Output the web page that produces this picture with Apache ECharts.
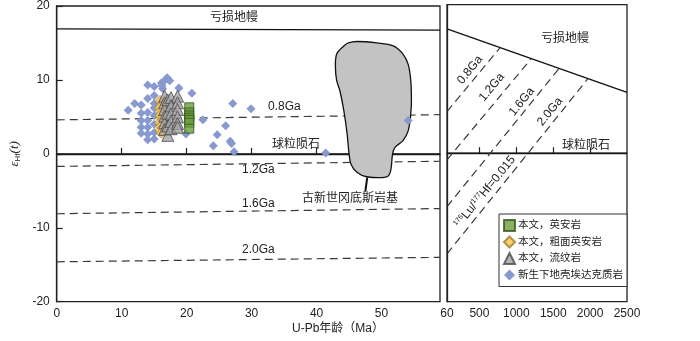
<!DOCTYPE html>
<html><head><meta charset="utf-8">
<script src="https://cdn.jsdelivr.net/npm/echarts@6/dist/echarts.min.js"></script>
<style>html,body{margin:0;padding:0;background:#fff}#c{width:700px;height:341px}</style>
</head><body><div id="c"></div>
<script>
// ---- data ----
const leftXTicks = [0, 10, 20, 30, 40, 50];
const rightXTicks = [60, 500, 1000, 1500, 2000, 2500];
const yTicks = [-20, -10, 0, 10, 20];

const daciteX = [20.4, 20.4, 20.4, 20.4, 20.4, 20.4, 20.4];
const daciteY = [6.3, 5.6, 5.2, 4.9, 4.6, 4.2, 3.4];

const trachyX = [15.9, 16.1, 15.8, 16.0, 15.9, 16.1, 15.8, 16.0, 15.9, 16.1];
const trachyY = [7.2, 6.7, 6.2, 5.7, 5.2, 4.7, 4.2, 3.7, 3.2, 2.8];

const rhyoliteX = [16.6, 16.6, 16.6, 16.6, 16.6, 16.6, 17.1, 17.1, 17.1, 17.1, 17.6, 17.6, 17.6, 17.6, 17.6, 18.6, 18.6, 18.6, 18.6, 18.6, 18.6];
const rhyoliteY = [7.8, 6.9, 6.0, 5.1, 4.2, 3.3, 7.3, 5.5, 3.8, 2.5, 7.6, 6.5, 5.4, 4.4, 3.4, 7.8, 6.9, 6.0, 5.0, 4.1, 3.6];

const adakiteX = [11.0, 12.0, 13.0, 13.0, 13.0, 13.0, 13.0, 14.0, 14.0, 14.0, 14.0, 14.0, 14.0, 14.0, 15.0, 15.0, 15.0, 15.0, 15.0, 15.0, 15.0, 15.0, 16.1, 16.3, 16.6, 17.0, 17.4, 16.2, 18.8, 20.8, 19.9, 22.5, 27.1, 29.9, 24.7, 24.1, 26.0, 26.7, 26.9, 27.3, 41.4, 54.1];
const adakiteY = [5.9, 6.8, 6.6, 5.5, 4.5, 3.6, 2.8, 9.3, 7.5, 5.6, 4.5, 3.6, 2.7, 1.9, 9.1, 7.9, 6.8, 6.2, 5.2, 4.0, 2.9, 2.0, 9.6, 8.8, 9.9, 10.3, 9.9, 9.2, 8.9, 8.2, 2.7, 4.6, 6.8, 6.1, 2.6, 1.1, 3.8, 1.7, 1.4, 0.3, 0.1, 4.5];

// Paleocene Gangdese batholith field outline
const batholithX = [44.9, 44.2, 43.1, 42.9, 43.1, 43.6, 44.2, 44.7, 45.0, 45.3, 46.2, 47.7, 50.8, 51.4, 51.7, 52.1, 53.3, 54.1, 54.5, 54.6, 54.5, 54.1, 53.3, 51.8, 49.3, 46.2];
const batholithY = [15.0, 14.6, 13.5, 11.7, 9.9, 8.5, 5.8, 2.7, 0.0, -1.4, -2.5, -3.1, -3.1, -2.3, 0.0, 0.9, 1.8, 3.1, 5.4, 7.2, 9.9, 12.1, 13.5, 14.6, 15.0, 15.2];
const leaderX = [47.8, 47.5];
const leaderY = [-3.2, -5.1];

// reference lines, left panel (age in Ma)
const dmLeftX = [0, 59], dmLeftY = [16.9, 16.75];
const churLeftX = [0, 59], churLeftY = [0, 0];
const ga08LeftY = [4.6, 5.3];
const ga12LeftY = [-1.7, -1.0];
const ga16LeftY = [-8.1, -7.4];
const ga20LeftY = [-14.6, -14.0];
const modelLeftX = [0, 59];

// right panel
const dmRightX = [60, 2500], dmRightY = [16.73, 8.2];
const churRightX = [60, 2500], churRightY = [0, 0];
const ga08RightX = [60, 778], ga08RightY = [5.6, 14.2];
const ga12RightX = [60, 1199], ga12RightY = [-0.9, 12.7];
const ga16RightX = [60, 1582], ga16RightY = [-7.2, 11.45];
const ga20RightX = [60, 1967], ga20RightY = [-13.55, 10.0];

const names = ['本文，英安岩', '本文，粗面英安岩', '本文，流纹岩', '新生下地壳埃达克质岩'];

// ---- chart ----
const zip = (a, b) => a.map((v, i) => [v, b[i]]);
const FONT = 'Liberation Sans, Noto Sans CJK SC, sans-serif';
const chart = echarts.init(document.getElementById('c'), null, {renderer: 'canvas'});

function refLine(name, xs, ys, idx, dashed, w) {
  return {
    name: name, type: 'line', xAxisIndex: idx, yAxisIndex: idx, data: zip(xs, ys),
    symbol: 'none', silent: true, z: 1, animation: false,
    lineStyle: {color: dashed ? '#3a3a3a' : '#111', width: w || 1.2, type: dashed ? [8, 5] : 'solid'}
  };
}

const txt = (x, y, s, opt) => ({
  type: 'text', x: x, y: y, silent: true,
  style: Object.assign({text: s, fill: '#222', font: '12px ' + FONT, align: 'center', verticalAlign: 'middle'}, opt || {})
});

const rot = Math.atan(1.22);
const rtxt = (x, y, s) => ({type: 'text', x: x, y: y, rotation: rot, silent: true,
  style: {text: s, fill: '#222', font: '12px ' + FONT, align: 'center', verticalAlign: 'middle'}});

const option = {
  animation: false,
  backgroundColor: '#fff',
  textStyle: {fontFamily: FONT},
  grid: [
    {left: 55, top: 4.7, width: 385, height: 297, show: true, borderColor: '#222', borderWidth: 1.3, containLabel: false},
    {left: 447, top: 4.7, width: 180, height: 297, show: true, borderColor: '#222', borderWidth: 1.3, containLabel: false}
  ],
  xAxis: [
    {type: 'value', gridIndex: 0, min: 0, max: 59, splitLine: {show: false},
     axisLine: {lineStyle: {color: '#222', width: 1.3}},
     axisTick: {inside: true, length: 6, customValues: leftXTicks.slice(1), lineStyle: {color: '#222', width: 1.2}},
     axisLabel: {customValues: leftXTicks, color: '#222', fontSize: 12, margin: 6, fontFamily: FONT,
                 formatter: v => String(v)}},
    {type: 'value', gridIndex: 1, min: 60, max: 2500, splitLine: {show: false},
     axisLine: {lineStyle: {color: '#222', width: 1.3}},
     axisTick: {inside: true, length: 6, customValues: [500, 1000, 1500, 2000], lineStyle: {color: '#222', width: 1.2}},
     axisLabel: {customValues: rightXTicks, color: '#222', fontSize: 12, margin: 6, fontFamily: FONT,
                 formatter: v => String(v)}}
  ],
  yAxis: [
    {type: 'value', gridIndex: 0, min: -20, max: 20, interval: 10, splitLine: {show: false},
     axisLine: {lineStyle: {color: '#222', width: 1.3}},
     axisTick: {inside: true, length: 6, lineStyle: {color: '#222', width: 1.2}},
     axisLabel: {color: '#222', fontSize: 12, margin: 7, fontFamily: FONT},
     name: '{e|ε}{s|Hf}{t|(t)}', nameLocation: 'middle', nameRotate: 90, nameGap: 19,
     nameTextStyle: {rich: {
       e: {fontFamily: 'Liberation Serif, DejaVu Serif, serif', fontStyle: 'italic', fontSize: 13, color: '#222'},
       s: {fontFamily: FONT, fontSize: 8, color: '#222', verticalAlign: 'bottom', padding: [6, 0, 0, 0]},
       t: {fontFamily: 'Liberation Serif, DejaVu Serif, serif', fontStyle: 'italic', fontSize: 13, color: '#222'}
     }}},
    {type: 'value', gridIndex: 1, min: -20, max: 20, interval: 10, splitLine: {show: false},
     axisLine: {lineStyle: {color: '#222', width: 1.3}}, axisTick: {show: false}, axisLabel: {show: false}}
  ],
  legend: {
    data: [
      {name: names[0], icon: 'rect'},
      {name: names[1], icon: 'diamond'},
      {name: names[2], icon: 'triangle'},
      {name: names[3], icon: 'diamond'}
    ],
    orient: 'vertical', left: 499, top: 214, itemWidth: 11, itemHeight: 11, itemGap: 3.5,
    padding: [5, 4, 5, 4], borderColor: '#333', borderWidth: 1, backgroundColor: '#fff',
    textStyle: {fontSize: 10.5, color: '#222', fontFamily: FONT, lineHeight: 13, padding: [0, 0, 0, -2]}, selectedMode: false
  },
  series: [
    {
      name: 'batholith', type: 'custom', xAxisIndex: 0, yAxisIndex: 0, z: 2, silent: true,
      data: [[batholithX[0], batholithY[0]]],
      renderItem: function (params, api) {
        const pts = batholithX.map((x, i) => api.coord([x, batholithY[i]]));
        return {type: 'polygon', shape: {points: pts, smooth: 0.35}, style: {fill: '#c3c3c3', stroke: '#111', lineWidth: 1.3}};
      }
    },
    refLine('leader', leaderX, leaderY, 0, false, 2),
    refLine('dmL', dmLeftX, dmLeftY, 0, false, 1.3),
    refLine('churL', churLeftX, churLeftY, 0, false, 1.3),
    refLine('g08L', modelLeftX, ga08LeftY, 0, true),
    refLine('g12L', modelLeftX, ga12LeftY, 0, true),
    refLine('g16L', modelLeftX, ga16LeftY, 0, true),
    refLine('g20L', modelLeftX, ga20LeftY, 0, true),
    refLine('dmR', dmRightX, dmRightY, 1, false, 1.3),
    refLine('churR', churRightX, churRightY, 1, false, 1.3),
    refLine('g08R', ga08RightX, ga08RightY, 1, true),
    refLine('g12R', ga12RightX, ga12RightY, 1, true),
    refLine('g16R', ga16RightX, ga16RightY, 1, true),
    refLine('g20R', ga20RightX, ga20RightY, 1, true),
    {name: names[3], type: 'scatter', xAxisIndex: 0, yAxisIndex: 0, z: 3, data: zip(adakiteX, adakiteY),
     symbol: 'diamond', symbolSize: 9, itemStyle: {color: '#8799cf', opacity: 1}},
    {name: names[1], type: 'scatter', xAxisIndex: 0, yAxisIndex: 0, z: 4, data: zip(trachyX, trachyY),
     symbol: 'diamond', symbolSize: 10, itemStyle: {color: '#f5c34f', borderColor: '#a07a2a', borderWidth: 0.8}},
    {name: names[2], type: 'scatter', xAxisIndex: 0, yAxisIndex: 0, z: 5, data: zip(rhyoliteX, rhyoliteY),
     symbol: 'triangle', symbolSize: 12, itemStyle: {color: '#a3a3a3', borderColor: '#4a4a4a', borderWidth: 1}},
    {name: names[0], type: 'scatter', xAxisIndex: 0, yAxisIndex: 0, z: 5, data: zip(daciteX, daciteY),
     symbol: 'rect', symbolSize: 9, itemStyle: {color: '#6a9d3d', borderColor: '#34561c', borderWidth: 1}}
  ],
  graphic: [
    txt(234, 18, '亏损地幔'),
    txt(268, 107, '0.8Ga', {align: 'left'}),
    txt(296, 145, '球粒陨石'),
    txt(242, 170, '1.2Ga', {align: 'left'}),
    txt(242, 204, '1.6Ga', {align: 'left'}),
    txt(242, 250, '2.0Ga', {align: 'left'}),
    txt(350, 199, '古新世冈底斯岩基'),
    txt(338, 329, 'U-Pb年龄（Ma）'),
    txt(565, 39, '亏损地幔'),
    txt(586, 146, '球粒陨石'),
    rtxt(470, 70, '0.8Ga'),
    rtxt(491.7, 87.3, '1.2Ga'),
    rtxt(521.7, 101.7, '1.6Ga'),
    rtxt(550, 111.7, '2.0Ga'),
    {type: 'text', x: 485, y: 192, rotation: rot, silent: true, style: {
      text: '{s|176}{n|Lu/}{s|177}{n|Hf=0.015}', align: 'center', verticalAlign: 'middle',
      rich: {s: {fontSize: 7, fill: '#222', fontFamily: FONT, verticalAlign: 'top', padding: [0, 0, 6, 0]},
             n: {fontSize: 12, fill: '#222', fontFamily: FONT}}}}
  ]
};
chart.setOption(option);
</script></body></html>
